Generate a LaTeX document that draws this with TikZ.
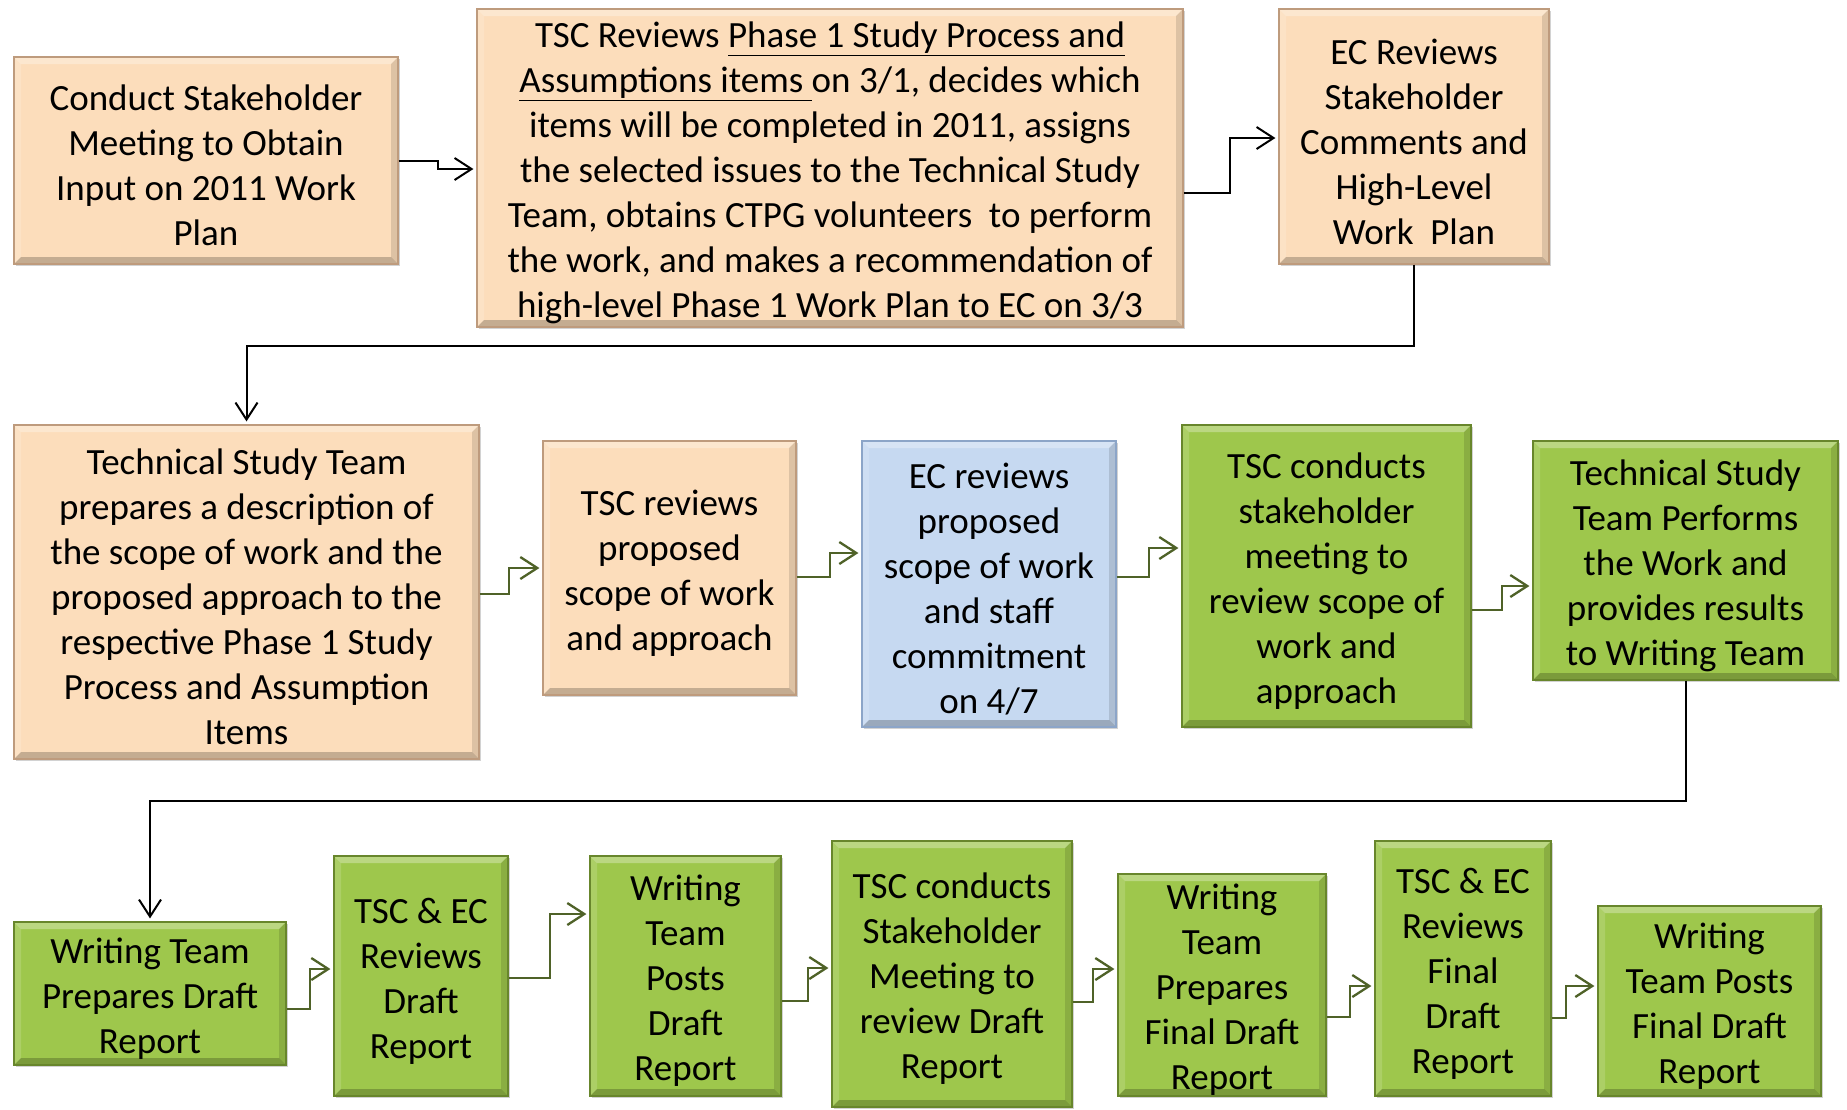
\documentclass[tikz,border=0pt]{standalone}
\usepackage{fontspec}
\setmainfont{Carlito}
\usetikzlibrary{arrows.meta,shadows}
\definecolor{peach}{RGB}{252,221,187}
\definecolor{peachedge}{RGB}{190,155,125}
\definecolor{grn}{RGB}{158,199,76}
\definecolor{grnedge}{RGB}{104,134,44}
\definecolor{blu}{RGB}{198,217,241}
\definecolor{bluedge}{RGB}{140,165,200}
\definecolor{conngreen}{RGB}{79,98,40}
\tikzset{
  bevel/.style={path picture={
    \coordinate (nw) at (path picture bounding box.north west);
    \coordinate (ne) at (path picture bounding box.north east);
    \coordinate (sw) at (path picture bounding box.south west);
    \coordinate (se) at (path picture bounding box.south east);
    \fill[white,opacity=.30] (nw) -- (ne) -- ([shift={(-7pt,-7pt)}]ne) -- ([shift={(7pt,-7pt)}]nw) -- cycle;
    \fill[white,opacity=.15] (nw) -- ([shift={(7pt,-7pt)}]nw) -- ([shift={(7pt,7pt)}]sw) -- (sw) -- cycle;
    \fill[black,opacity=.12] (ne) -- (se) -- ([shift={(-7pt,7pt)}]se) -- ([shift={(-7pt,-7pt)}]ne) -- cycle;
    \fill[black,opacity=.22] (sw) -- (se) -- ([shift={(-7pt,7pt)}]se) -- ([shift={(7pt,7pt)}]sw) -- cycle;
  }},
  boxbase/.style={rectangle, inner sep=0pt, line width=1.2pt, bevel,
    drop shadow={shadow xshift=2pt,shadow yshift=-2pt,opacity=.35}},
  boxtext/.style={inner sep=0pt, align=center, font=\fontsize{37}{45}\selectfont},
  pbox/.style={boxbase, fill=peach, draw=peachedge},
  gbox/.style={boxbase, fill=grn, draw=grnedge},
  bbox/.style={boxbase, fill=blu, draw=bluedge},
  bk/.style={draw=black, line width=2pt, -{Straight Barb[length=17pt,width=22pt]}, shorten >=3pt},
  gr/.style={draw=conngreen, line width=2.3pt, -{Straight Barb[length=17pt,width=22pt]}, shorten >=3pt},
}
\newcommand{\mkbox}[7]{%
  \node[#2, minimum width={#5-#3}, minimum height={#6-#4}] (#1) at ({(#3+#5)/2},{(#4+#6)/2}) {};
  \node[boxtext] (#1t) at ([yshift=-5pt]#1.center) {#7};}
\begin{document}
\begin{tikzpicture}[x=1pt,y=-1pt]
\useasboundingbox (0,0) rectangle (1847,1109);
\fill[white] (0,0) rectangle (1847,1109);

\mkbox{b1}{pbox}{14}{57}{398}{264}{Conduct Stakeholder\\Meeting to Obtain\\Input on 2011 Work\\Plan}
\mkbox{b2}{pbox}{477}{9}{1183}{327}{TSC Reviews \underline{Phase 1 Study Process and}\\\underline{Assumptions items\ }on 3/1, decides which\\items will be completed in 2011, assigns\\the selected issues to the Technical Study\\Team, obtains CTPG volunteers\ \ to perform\\the work, and makes a recommendation of\\high-level Phase 1 Work Plan to EC on 3/3}
\mkbox{b3}{pbox}{1279}{9}{1549}{264}{EC Reviews\\Stakeholder\\Comments and\\High-Level\\Work\ \ Plan}

\mkbox{b4}{pbox}{14}{425}{479}{759}{Technical Study Team\\prepares a description of\\the scope of work and the\\proposed approach to the\\respective Phase 1 Study\\Process and Assumption\\Items}
\mkbox{b5}{pbox}{543}{441}{796}{695}{TSC reviews\\proposed\\scope of work\\and approach}
\mkbox{b6}{bbox}{862}{441}{1116}{727}{EC reviews\\proposed\\scope of work\\and staff\\commitment\\on 4/7}
\mkbox{b7}{gbox}{1182}{425}{1471}{727}{TSC conducts\\stakeholder\\meeting to\\review scope of\\work and\\approach}
\mkbox{b8}{gbox}{1533}{441}{1838}{680}{Technical Study\\Team Performs\\the Work and\\provides results\\to Writing Team}

\mkbox{b9}{gbox}{14}{922}{286}{1065}{Writing Team\\Prepares Draft\\Report}
\mkbox{b10}{gbox}{334}{856}{508}{1096}{TSC \& EC\\Reviews\\Draft\\Report}
\mkbox{b11}{gbox}{590}{856}{781}{1096}{Writing\\Team\\Posts\\Draft\\Report}
\mkbox{b12}{gbox}{832}{841}{1072}{1107}{TSC conducts\\Stakeholder\\Meeting to\\review Draft\\Report}
\mkbox{b13}{gbox}{1118}{874}{1326}{1096}{Writing\\Team\\Prepares\\Final Draft\\Report}
\mkbox{b14}{gbox}{1375}{841}{1551}{1096}{TSC \& EC\\Reviews\\Final\\Draft\\Report}
\mkbox{b15}{gbox}{1598}{906}{1821}{1096}{Writing\\Team Posts\\Final Draft\\Report}

\draw[bk] (b1.east |- 0,161) -- (438,161) |- (b2.west |- 0,169);
\draw[bk] (b2.east |- 0,193) -- (1230,193) |- (b3.west |- 0,138);
\draw[bk] (b3.south) |- (b4.north |- 0,346) -- (b4.north);
\draw[gr] (b4.east |- 0,594) -- (509,594) |- (b5.west |- 0,568);
\draw[gr] (b5.east |- 0,577) -- (830,577) |- (b6.west |- 0,553);
\draw[gr] (b6.east |- 0,577) -- (1149,577) |- (b7.west |- 0,548);
\draw[gr] (b7.east |- 0,610) -- (1502,610) |- (b8.west |- 0,586);
\draw[bk] (b8.south) |- (b9.north |- 0,801) -- (b9.north);
\draw[gr] (b9.east |- 0,1009) -- (310,1009) |- (b10.west |- 0,969);
\draw[gr] (b10.east |- 0,978) -- (550,978) |- (b11.west |- 0,914);
\draw[gr] (b11.east |- 0,1001) -- (808,1001) |- (b12.west |- 0,968);
\draw[gr] (b12.east |- 0,1002) -- (1093,1002) |- (b13.west |- 0,969);
\draw[gr] (b13.east |- 0,1017) -- (1350,1017) |- (b14.west |- 0,986);
\draw[gr] (b14.east |- 0,1018) -- (1566,1018) |- (b15.west |- 0,986);
\end{tikzpicture}
\end{document}
